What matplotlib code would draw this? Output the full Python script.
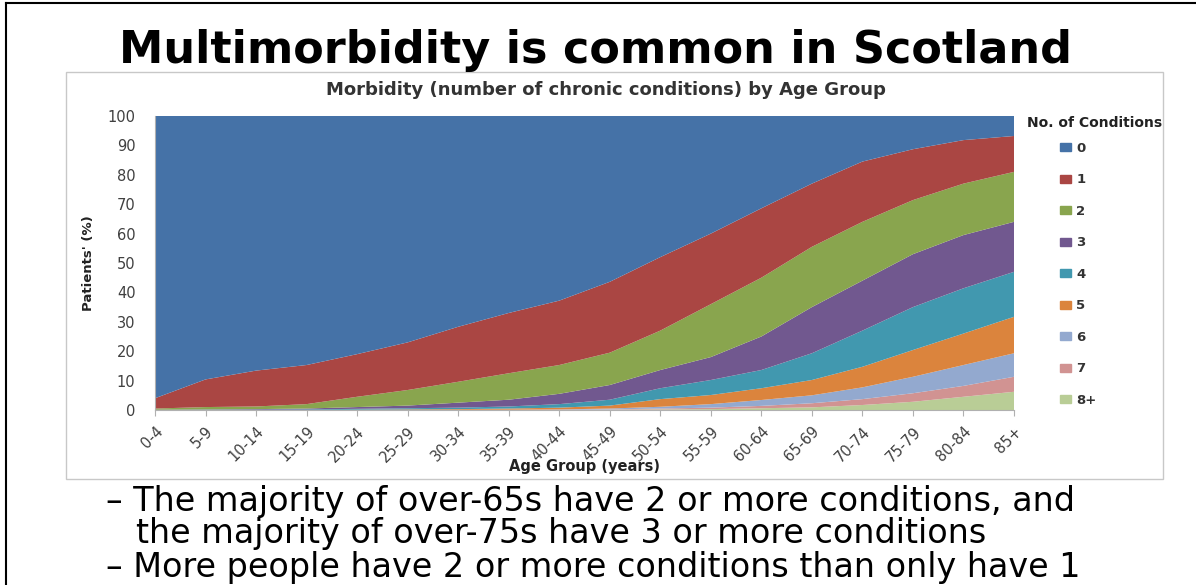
import matplotlib
matplotlib.use("Agg")
import matplotlib.pyplot as plt
from matplotlib.patches import Rectangle
from matplotlib.lines import Line2D

# age groups and share of patients (%) with each number of chronic conditions
age_groups = ["0-4", "5-9", "10-14", "15-19", "20-24", "25-29", "30-34", "35-39",
              "40-44", "45-49", "50-54", "55-59", "60-64", "65-69", "70-74",
              "75-79", "80-84", "85+"]
cond_1 = [3.5, 9.4, 12.2, 13.3, 14.5, 16.2, 18.7, 20.5, 21.9, 24.1, 25.0, 24.0,
          23.6, 21.5, 20.5, 17.3, 14.8, 12.2]
cond_2 = [0.4, 0.8, 0.9, 1.5, 3.5, 5.3, 7.1, 9.0, 9.8, 11.0, 13.4, 18.0, 20.0,
          20.5, 20.0, 18.4, 17.5, 17.0]
cond_3 = [0.1, 0.1, 0.2, 0.3, 0.6, 0.9, 1.7, 2.3, 3.5, 5.0, 6.2, 7.8, 11.4,
          15.7, 17.0, 18.0, 18.1, 17.0]
cond_4 = [0.0, 0.1, 0.1, 0.2, 0.3, 0.4, 0.5, 0.7, 1.2, 2.0, 3.7, 5.1, 6.2, 9.1,
          12.3, 14.6, 15.4, 15.3]
cond_5 = [0.0, 0.0, 0.0, 0.0, 0.1, 0.2, 0.25, 0.4, 0.6, 1.0, 2.6, 3.1, 4.0, 5.2,
          7.0, 9.1, 10.7, 12.4]
cond_6 = [0.0, 0.0, 0.0, 0.0, 0.0, 0.0, 0.05, 0.1, 0.1, 0.3, 0.6, 1.2, 2.0, 2.7,
          4.0, 5.6, 7.1, 8.0]
cond_7 = [0.0, 0.0, 0.0, 0.0, 0.0, 0.0, 0.0, 0.0, 0.1, 0.1, 0.3, 0.5, 0.8, 1.4,
          2.0, 2.9, 3.7, 5.1]
cond_8 = [0.0, 0.0, 0.0, 0.0, 0.0, 0.0, 0.0, 0.0, 0.0, 0.1, 0.2, 0.3, 0.6, 0.9,
          1.7, 2.8, 4.5, 6.2]
labels = ["0", "1", "2", "3", "4", "5", "6", "7", "8+"]
colors = ["#4572A7", "#AA4643", "#89A54E", "#71588F", "#4198AF", "#DB843D",
          "#93A9CF", "#D19392", "#B9CD96"]

upper = [cond_1, cond_2, cond_3, cond_4, cond_5, cond_6, cond_7, cond_8]
cond_0 = [100 - sum(v[i] for v in upper) for i in range(len(age_groups))]
series = [cond_0] + upper

fig = plt.figure(figsize=(11.96, 5.85), dpi=100)

# slide border (top and left) and chart box
fig.add_artist(Line2D([6 / 1196, 6 / 1196], [0, 1 - 3 / 585], color="black", lw=1.5))
fig.add_artist(Line2D([6 / 1196, 1], [1 - 3 / 585, 1 - 3 / 585], color="black", lw=1.5))
fig.add_artist(Rectangle((66 / 1196, 1 - 479 / 585), (1163 - 66) / 1196, (479 - 72) / 585,
                         fill=False, edgecolor="#c8c8c8", lw=1))

fig.text(0.498, 1 - 63 / 585, "Multimorbidity is common in Scotland", ha="center",
         va="baseline", fontsize=32, fontweight="bold", family="DejaVu Sans")
fig.text(0.507, 1 - 90 / 585, "Morbidity (number of chronic conditions) by Age Group",
         ha="center", va="center", fontsize=13, fontweight="bold", color="#333333")

ax = fig.add_axes([155 / 1196, 1 - 410 / 585, (1014 - 155) / 1196, (410 - 116) / 585])
x = list(range(len(age_groups)))
ax.stackplot(x, *series[::-1], colors=colors[::-1], linewidth=0)
ax.set_xlim(0, len(age_groups) - 1)
ax.set_ylim(0, 100)
ax.set_yticks(range(0, 101, 10))
ax.set_xticks(x)
ax.set_xticklabels(age_groups, rotation=45, ha="right", rotation_mode="anchor")
ax.tick_params(axis="y", length=0, labelsize=10.5, colors="#404040", pad=14)
ax.tick_params(axis="x", length=4, color="#b0b0b0", labelsize=10.5,
               labelcolor="#404040", pad=6)
for s in ["top", "right"]:
    ax.spines[s].set_visible(False)
ax.spines["left"].set_color("#b0b0b0")
ax.spines["bottom"].set_color("#b0b0b0")
ax.set_ylabel("Patients' (%)", fontsize=9.5, fontweight="bold", color="#222222", labelpad=9)
ax.set_xlabel("Age Group (years)", fontsize=10.5, fontweight="bold", color="#222222", labelpad=-4)

# legend
fig.text(1027 / 1196, 1 - 123 / 585, "No. of Conditions", ha="left", va="center",
         fontsize=10, fontweight="bold", color="#222222")
handles = [Rectangle((0, 0), 1, 1, color=c) for c in colors]
leg = fig.legend(handles, labels, loc="upper left",
                 bbox_to_anchor=(1060 / 1196, 1 - 142 / 585), frameon=False,
                 fontsize=9.5, handlelength=0.8, handleheight=0.55, labelspacing=1.4,
                 handletextpad=0.45, borderpad=0, borderaxespad=0)
for t in leg.get_texts():
    t.set_fontweight("bold")
    t.set_color("#333333")

bullet_font = ["DejaVu Sans"]
fig.text(106 / 1196, 1 - 511 / 585, "– The majority of over-65s have 2 or more conditions, and",
         ha="left", va="baseline", fontsize=24, family=bullet_font)
fig.text(136 / 1196, 1 - 543 / 585, "the majority of over-75s have 3 or more conditions",
         ha="left", va="baseline", fontsize=24, family=bullet_font)
fig.text(106 / 1196, 1 - 577 / 585, "– More people have 2 or more conditions than only have 1",
         ha="left", va="baseline", fontsize=24, family=bullet_font)

fig.savefig("out.png", dpi=100)
